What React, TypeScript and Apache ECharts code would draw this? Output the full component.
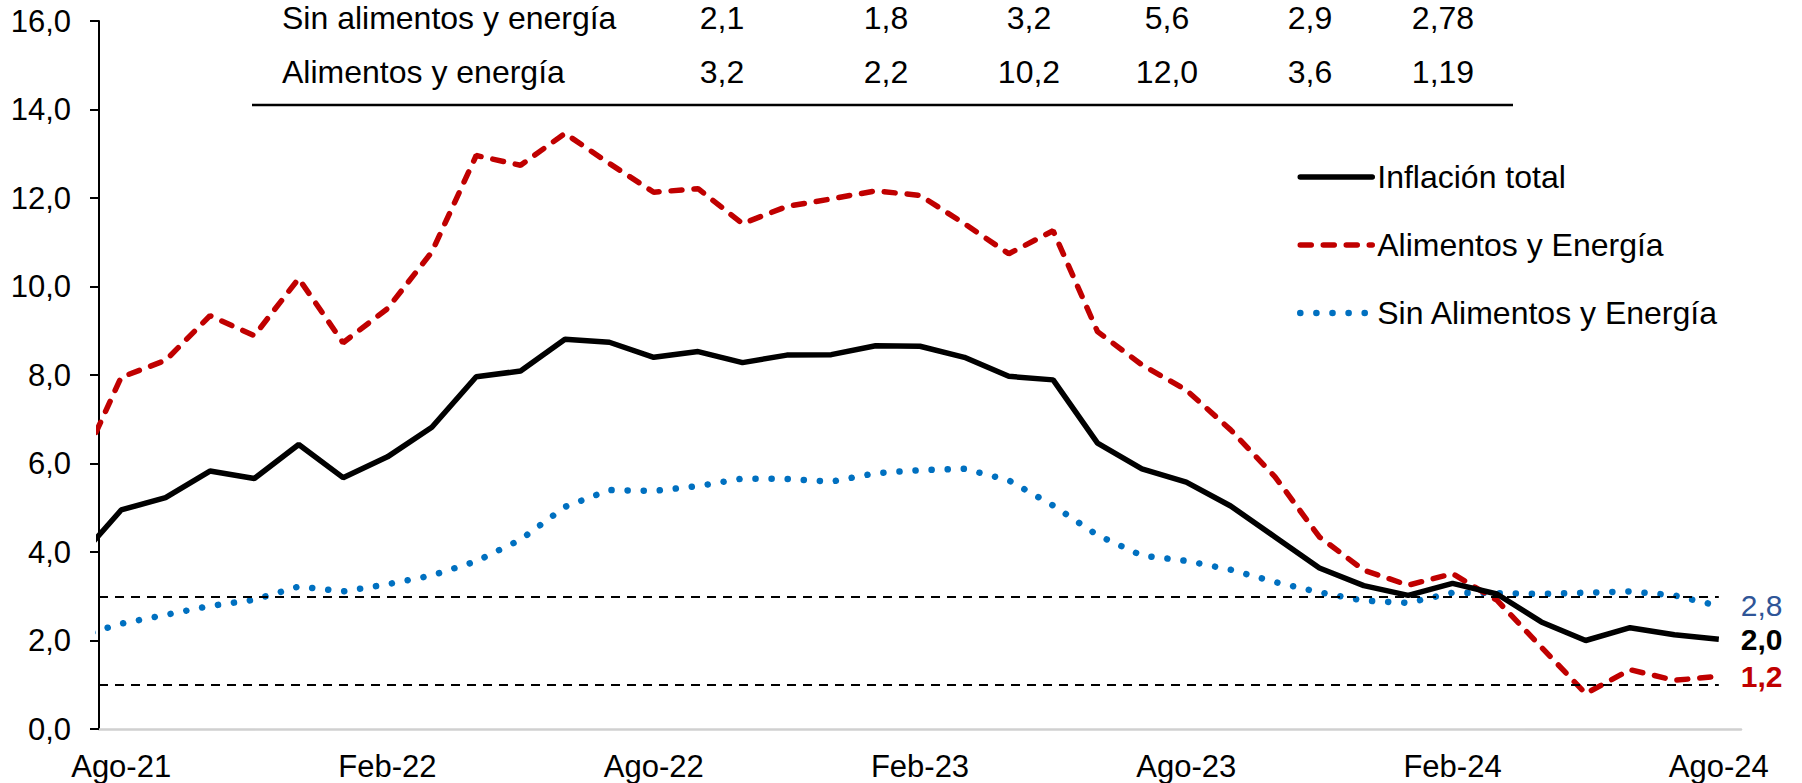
import React, { useEffect, useRef } from 'react';
import * as echarts from 'echarts';

// Months from Jul-21 (clipped, before the axis) to Ago-24
const months = [
  'Jul-21', 'Ago-21', 'Sep-21', 'Oct-21', 'Nov-21', 'Dic-21',
  'Ene-22', 'Feb-22', 'Mar-22', 'Abr-22', 'May-22', 'Jun-22', 'Jul-22', 'Ago-22', 'Sep-22', 'Oct-22', 'Nov-22', 'Dic-22',
  'Ene-23', 'Feb-23', 'Mar-23', 'Abr-23', 'May-23', 'Jun-23', 'Jul-23', 'Ago-23', 'Sep-23', 'Oct-23', 'Nov-23', 'Dic-23',
  'Ene-24', 'Feb-24', 'Mar-24', 'Abr-24', 'May-24', 'Jun-24', 'Jul-24', 'Ago-24',
];

const inflacionTotal = [
  3.81, 4.95, 5.23, 5.83, 5.66, 6.43,
  5.68, 6.15, 6.82, 7.96, 8.09, 8.81, 8.74, 8.40, 8.53, 8.28, 8.45, 8.46,
  8.66, 8.65, 8.40, 7.97, 7.89, 6.46, 5.88, 5.58, 5.04, 4.34, 3.64, 3.24,
  3.02, 3.29, 3.05, 2.42, 2.00, 2.29, 2.13, 2.03,
];

const alimentosEnergia = [
  5.76, 7.95, 8.33, 9.34, 8.89, 10.18,
  8.73, 9.50, 10.78, 12.96, 12.74, 13.46, 12.78, 12.13, 12.21, 11.42, 11.81, 11.98,
  12.16, 12.06, 11.42, 10.74, 11.26, 8.98, 8.23, 7.66, 6.76, 5.70, 4.34, 3.59,
  3.25, 3.51, 2.91, 1.85, 0.80, 1.34, 1.10, 1.19,
];

const sinAlimentosEnergia = [
  2.08, 2.38, 2.58, 2.78, 2.92, 3.22,
  3.11, 3.27, 3.47, 3.79, 4.28, 5.02, 5.40, 5.38, 5.49, 5.66, 5.65, 5.59,
  5.78, 5.85, 5.88, 5.62, 5.05, 4.38, 3.92, 3.80, 3.60, 3.32, 3.09, 2.90,
  2.85, 3.08, 3.07, 3.05, 3.08, 3.11, 3.02, 2.78,
];

const seriesNames = ['Inflación total', 'Alimentos y Energía', 'Sin Alimentos y Energía'];

const targetBands = [3, 1];

const tableRowLabels = ['Sin alimentos y energía', 'Alimentos y energía'];
const tableSinAE = ['2,1', '1,8', '3,2', '5,6', '2,9', '2,78'];
const tableAE = ['3,2', '2,2', '10,2', '12,0', '3,6', '1,19'];

const FONT = '"Liberation Sans", Arial, Helvetica, sans-serif';
const FS = 31;
const FS_TXT = 32;

const fmt = (v: number) => v.toFixed(1).replace('.', ',');

export default function App() {
  const ref = useRef<HTMLDivElement>(null);

  useEffect(() => {
    if (!ref.current) return;
    const chart = echarts.init(ref.current, undefined, { renderer: 'svg' });

    const labels = months.slice(1); // Ago-21 .. Ago-24 on the category axis
    const toPairs = (arr: number[]) => arr.map((v, i) => [i - 1, v]);
    const lastIdx = labels.length - 1;

    // table graphics
    const colX = [722, 886, 1029, 1167, 1310, 1443];
    const rowY = [18, 72];
    const tableRows = [tableSinAE, tableAE];
    const graphic: any[] = [];
    tableRowLabels.forEach((lab, r) => {
      graphic.push({
        type: 'text',
        x: 282,
        y: rowY[r],
        style: {
          text: lab, fontSize: FS_TXT, fontFamily: FONT, fill: '#000',
          align: 'left', verticalAlign: 'middle', textAlign: 'left', textVerticalAlign: 'middle',
        },
      });
      tableRows[r].forEach((val, c) => {
        graphic.push({
          type: 'text',
          x: colX[c],
          y: rowY[r],
          style: {
            text: val, fontSize: FS_TXT, fontFamily: FONT, fill: '#000',
            align: 'center', verticalAlign: 'middle', textAlign: 'center', textVerticalAlign: 'middle',
          },
        });
      });
    });
    graphic.push({
      type: 'line',
      shape: { x1: 252, y1: 105, x2: 1513, y2: 105 },
      style: { stroke: '#000', lineWidth: 2.5 },
    });

    const option: any = {
      animation: false,
      backgroundColor: '#fff',
      textStyle: { fontFamily: FONT },
      grid: { left: 99, right: 61, top: 21, bottom: 54, containLabel: false },
      legend: {
        data: [
          { name: seriesNames[0], lineStyle: { width: 5.5, cap: 'round' } },
          { name: seriesNames[1], lineStyle: { width: 5.5, cap: 'round' } },
          { name: seriesNames[2], lineStyle: { width: 6.5, cap: 'round' } },
        ],
        orient: 'vertical',
        left: 1297,
        top: 161,
        padding: 0,
        itemWidth: 72,
        itemHeight: 14,
        itemGap: 36,
        itemStyle: { opacity: 0, borderWidth: 0 },
        lineStyle: { cap: 'round' },
        textStyle: { fontSize: FS_TXT, color: '#000', fontFamily: FONT },
        selectedMode: false,
      },
      xAxis: [
        {
          type: 'category',
          data: labels,
          boundaryGap: true,
          position: 'bottom',
          axisLine: { show: true, onZero: false, lineStyle: { color: '#D0D0D0', width: 2.5 } },
          axisTick: { show: false },
          axisLabel: { interval: 5, fontSize: FS, color: '#000', fontFamily: FONT, margin: 22 },
          splitLine: { show: false },
        },
        {
          type: 'value',
          min: -0.5,
          max: lastIdx + 0.5,
          show: false,
          position: 'bottom',
          splitLine: { show: false },
        },
      ],
      yAxis: {
        type: 'value',
        min: 0,
        max: 16,
        interval: 2,
        axisLine: { show: true, onZero: false, lineStyle: { color: '#000', width: 2 } },
        axisTick: { show: true, inside: false, length: 9, lineStyle: { color: '#000', width: 2 } },
        axisLabel: {
          formatter: (v: number) => fmt(v),
          fontSize: FS, color: '#000', fontFamily: FONT, margin: 28,
        },
        splitLine: { show: false },
      },
      graphic,
      series: [
        {
          name: 'target',
          type: 'line',
          xAxisIndex: 1,
          data: [],
          silent: true,
          markLine: {
            silent: true,
            symbol: 'none',
            label: { show: false },
            lineStyle: { color: '#000', width: 2.2, type: [9, 7] },
            data: targetBands.map((t) => [{ coord: [-0.5, t] }, { coord: [lastIdx, t] }]),
          },
        },
        {
          name: seriesNames[2],
          type: 'line',
          xAxisIndex: 1,
          data: toPairs(sinAlimentosEnergia),
          symbol: 'none',
          lineStyle: { color: '#0070C0', width: 6.5, type: [0.1, 16], cap: 'round' },
          itemStyle: { color: '#0070C0' },
          z: 3,
          endLabel: {
            show: true,
            formatter: (p: any) => fmt(p.value[1]),
            color: '#2F5597',
            fontSize: 30,
            fontFamily: FONT,
            distance: 22,
          },
        },
        {
          name: seriesNames[1],
          type: 'line',
          xAxisIndex: 1,
          data: toPairs(alimentosEnergia),
          symbol: 'none',
          lineStyle: { color: '#C00000', width: 5.5, type: [11, 12], cap: 'round' },
          itemStyle: { color: '#C00000' },
          z: 4,
          endLabel: {
            show: true,
            formatter: (p: any) => fmt(p.value[1]),
            color: '#C00000',
            fontWeight: 'bold',
            fontSize: 30,
            fontFamily: FONT,
            distance: 22,
          },
        },
        {
          name: seriesNames[0],
          type: 'line',
          xAxisIndex: 1,
          data: toPairs(inflacionTotal),
          symbol: 'none',
          lineStyle: { color: '#000', width: 5.5 },
          itemStyle: { color: '#000' },
          z: 5,
          endLabel: {
            show: true,
            formatter: (p: any) => fmt(p.value[1]),
            color: '#000',
            fontWeight: 'bold',
            fontSize: 30,
            fontFamily: FONT,
            distance: 22,
          },
        },
      ],
    };

    chart.setOption(option);
    return () => chart.dispose();
  }, []);

  return (
    <div
      ref={ref}
      style={{ position: 'fixed', left: 0, top: 0, width: 1802, height: 783, background: '#fff' }}
    />
  );
}
